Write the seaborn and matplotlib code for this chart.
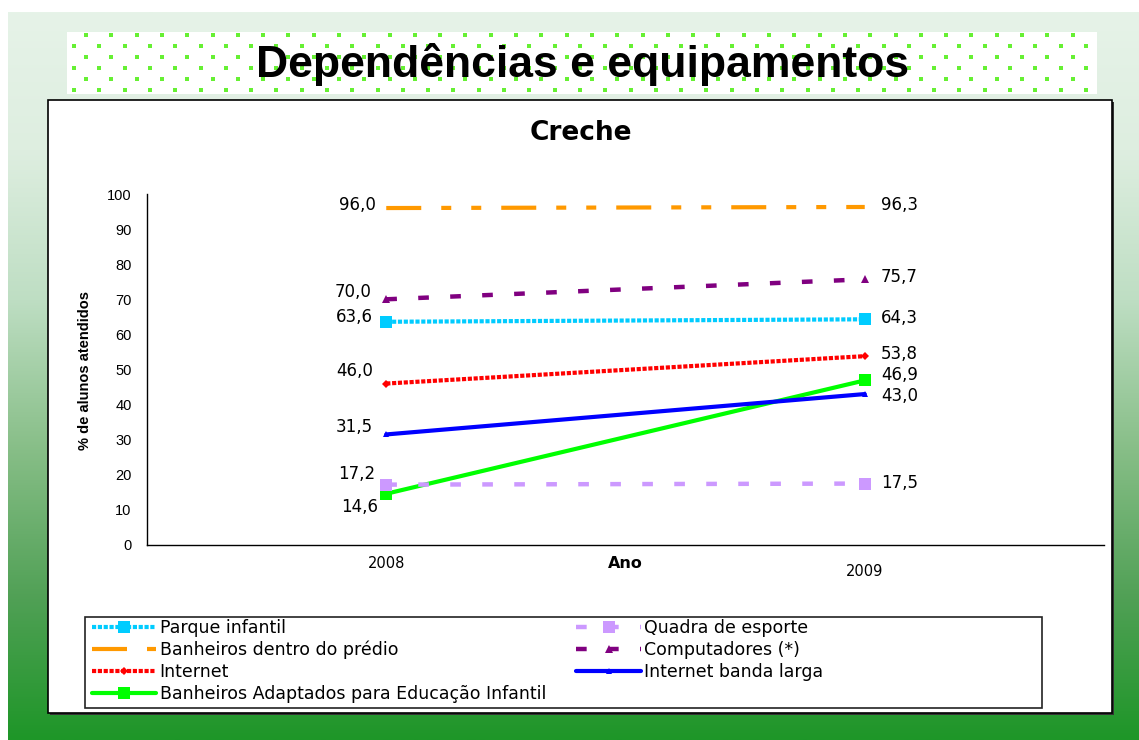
import numpy as np
import pandas as pd
import matplotlib
matplotlib.use('Agg')
import matplotlib.pyplot as plt
import seaborn as sns
from matplotlib.patches import Rectangle

sns.set_style('white')
plt.rcParams['font.family'] = ['Liberation Sans', 'DejaVu Sans']
plt.rcParams['text.color'] = 'black'
plt.rcParams['axes.labelcolor'] = 'black'
plt.rcParams['xtick.color'] = 'black'
plt.rcParams['ytick.color'] = 'black'
LARGA = ['DejaVu Sans']  # fonte mais larga, o original parece esticado na horizontal

# dados
anos = ['2008', '2009']
series = [
    'Parque infantil',
    'Banheiros dentro do prédio',
    'Internet',
    'Banheiros Adaptados para Educação Infantil',
    'Quadra de esporte',
    'Computadores (*)',
    'Internet banda larga',
]
parque = [63.6, 64.3]
banheiros = [96.0, 96.3]
internet = [46.0, 53.8]
banheiros_adapt = [14.6, 46.9]
quadra = [17.2, 17.5]
computadores = [70.0, 75.7]
banda_larga = [31.5, 43.0]
valores = [parque, banheiros, internet, banheiros_adapt, quadra, computadores, banda_larga]

# estilos de cada serie
estilos = {
    'Parque infantil': dict(color='#00CCFF', lw=3.0, ls=(0, (1.0, 0.4)), marker='s', ms=8),
    'Banheiros dentro do prédio': dict(color='#FF9900', lw=3.0, ls=(0, (8.4, 4.8, 2.4, 4.8, 2.4, 4.8)), marker=None, ms=0),
    'Internet': dict(color='#FF0000', lw=3.0, ls=(0, (1.0, 0.4)), marker='D', ms=4),
    'Banheiros Adaptados para Educação Infantil': dict(color='#00FF00', lw=3.0, ls='-', marker='s', ms=8),
    'Quadra de esporte': dict(color='#CC99FF', lw=3.2, ls=(0, (2.4, 4.8)), marker='s', ms=9),
    'Computadores (*)': dict(color='#800080', lw=3.2, ls=(0, (2.4, 4.8)), marker='^', ms=6),
    'Internet banda larga': dict(color='#0000FF', lw=3.0, ls='-', marker='^', ms=5),
}

# deslocamento dos rótulos (pixels) para 2008 e 2009
desloc = {
    'Parque infantil': [(-13, 5), (16, 1)],
    'Banheiros dentro do prédio': [(-10, 3), (16, 2)],
    'Internet': [(-13, 13), (16, 2)],
    'Banheiros Adaptados para Educação Infantil': [(-8, -13), (16, 5)],
    'Quadra de esporte': [(-11, 11), (16, 1)],
    'Computadores (*)': [(-15, 7), (16, 2)],
    'Internet banda larga': [(-13, 7), (16, -2)],
}

W, H = 1139, 740
fig = plt.figure(figsize=(W / 100, H / 100), dpi=100)

# fundo
bg = fig.add_axes([0, 0, 1, 1])
bg.set_xlim(0, W)
bg.set_ylim(H, 0)
bg.axis('off')
ys = np.linspace(12, H, 300)
stops_y = [12, 150, 300, 450, 600, 740]
stops_c = np.array([[230, 243, 232], [222, 238, 224], [190, 222, 195], [135, 190, 135],
                    [80, 160, 85], [30, 150, 40]]) / 255
grad = np.stack([np.interp(ys, stops_y, stops_c[:, k]) for k in range(3)], axis=-1)[:, None, :]
bg.imshow(grad, extent=(8, W, H, 12), aspect='auto', zorder=0)

# caixa do título com pontos
bg.add_patch(Rectangle((67, 32), 1030, 62, facecolor='white', edgecolor='none', zorder=1))
dx, dy = [], []
for r, y in enumerate(np.arange(35, 94, 11)):
    x0 = 86 if r % 2 == 0 else 74
    for x in np.arange(x0, 1095, 25.3):
        dx.append(x)
        dy.append(y)
bg.scatter(dx, dy, marker='s', s=5, color='#66F033', linewidths=0, zorder=2)
bg.text(583, 64, 'Dependências e equipamentos', fontsize=32, fontweight='bold',
        ha='center', va='center', zorder=3)

# caixa do gráfico
bg.add_patch(Rectangle((50, 102), 1064, 613, facecolor='#333333', edgecolor='none', zorder=1))
bg.add_patch(Rectangle((48, 100), 1064, 613, facecolor='white', edgecolor='black', lw=1.2, zorder=2))
bg.add_patch(Rectangle((85, 617), 957, 91, facecolor='white', edgecolor='#222222', lw=1.2, zorder=3))
bg.text(581, 133, 'Creche', fontsize=19, fontweight='bold', family=LARGA,
        ha='center', va='center', zorder=3)
bg.text(85, 370, '% de alunos atendidos', fontsize=10.5, fontweight='bold', rotation=90,
        ha='center', va='center', zorder=3)

ax = fig.add_axes([147 / W, 1 - 545 / H, (1104 - 147) / W, (545 - 194) / H])
ax.set_facecolor('none')
pos = np.arange(len(anos))
handles = {}
for nome, vals in zip(series, valores):
    st = estilos[nome]
    sns.lineplot(x=pos, y=vals, ax=ax, color=st['color'], linewidth=st['lw'], linestyle=st['ls'],
                 marker=st['marker'], markersize=st['ms'], markeredgewidth=0, label=nome)
    handles[nome] = ax.get_lines()[-1]
    for i, v in enumerate(vals):
        ax.annotate(f'{v:.1f}'.replace('.', ','), xy=(pos[i], v), xytext=desloc[nome][i],
                    textcoords='offset pixels', fontsize=12, family=LARGA,
                    ha='right' if i == 0 else 'left', va='center')

ax.set_xlim(-0.5, 1.5)
ax.set_ylim(0, 100)
ax.set_yticks(np.arange(0, 101, 10))
ax.set_xticks([-0.5, 0.5, 1.5])
ax.set_xticklabels([])
ax.tick_params(axis='y', direction='out', length=6, width=1, labelsize=10.5, pad=5)
ax.tick_params(axis='x', direction='out', length=4, width=1)
for s in ['top', 'right']:
    ax.spines[s].set_visible(False)
for s in ['left', 'bottom']:
    ax.spines[s].set_color('black')
    ax.spines[s].set_linewidth(1)
ax.set_xlabel('')
ax.set_ylabel('')

for i, ano in enumerate(anos):
    ax.annotate(ano, xy=(pos[i], 0), xycoords=ax.get_xaxis_transform(),
                xytext=(0, -19 if i == 0 else -27), textcoords='offset pixels',
                fontsize=10.5, family=LARGA, ha='center', va='center')
ax.annotate('Ano', xy=(0.5, 0), xycoords='axes fraction', xytext=(0, -19),
            textcoords='offset pixels', fontsize=11.5, fontweight='bold', family=LARGA,
            ha='center', va='center')

ordem = ['Parque infantil', 'Banheiros dentro do prédio', 'Internet',
         'Banheiros Adaptados para Educação Infantil',
         'Quadra de esporte', 'Computadores (*)', 'Internet banda larga']
ax.legend([handles[n] for n in ordem], ordem, ncol=2, frameon=False,
          prop={'family': LARGA, 'size': 12.5},
          loc='upper left', bbox_to_anchor=(92 / W, 1 - 619 / H), bbox_transform=fig.transFigure,
          handlelength=3.7, handletextpad=0.2, labelspacing=0.22, columnspacing=1.75,
          borderpad=0, borderaxespad=0)

fig.savefig('out.png', dpi=100)
